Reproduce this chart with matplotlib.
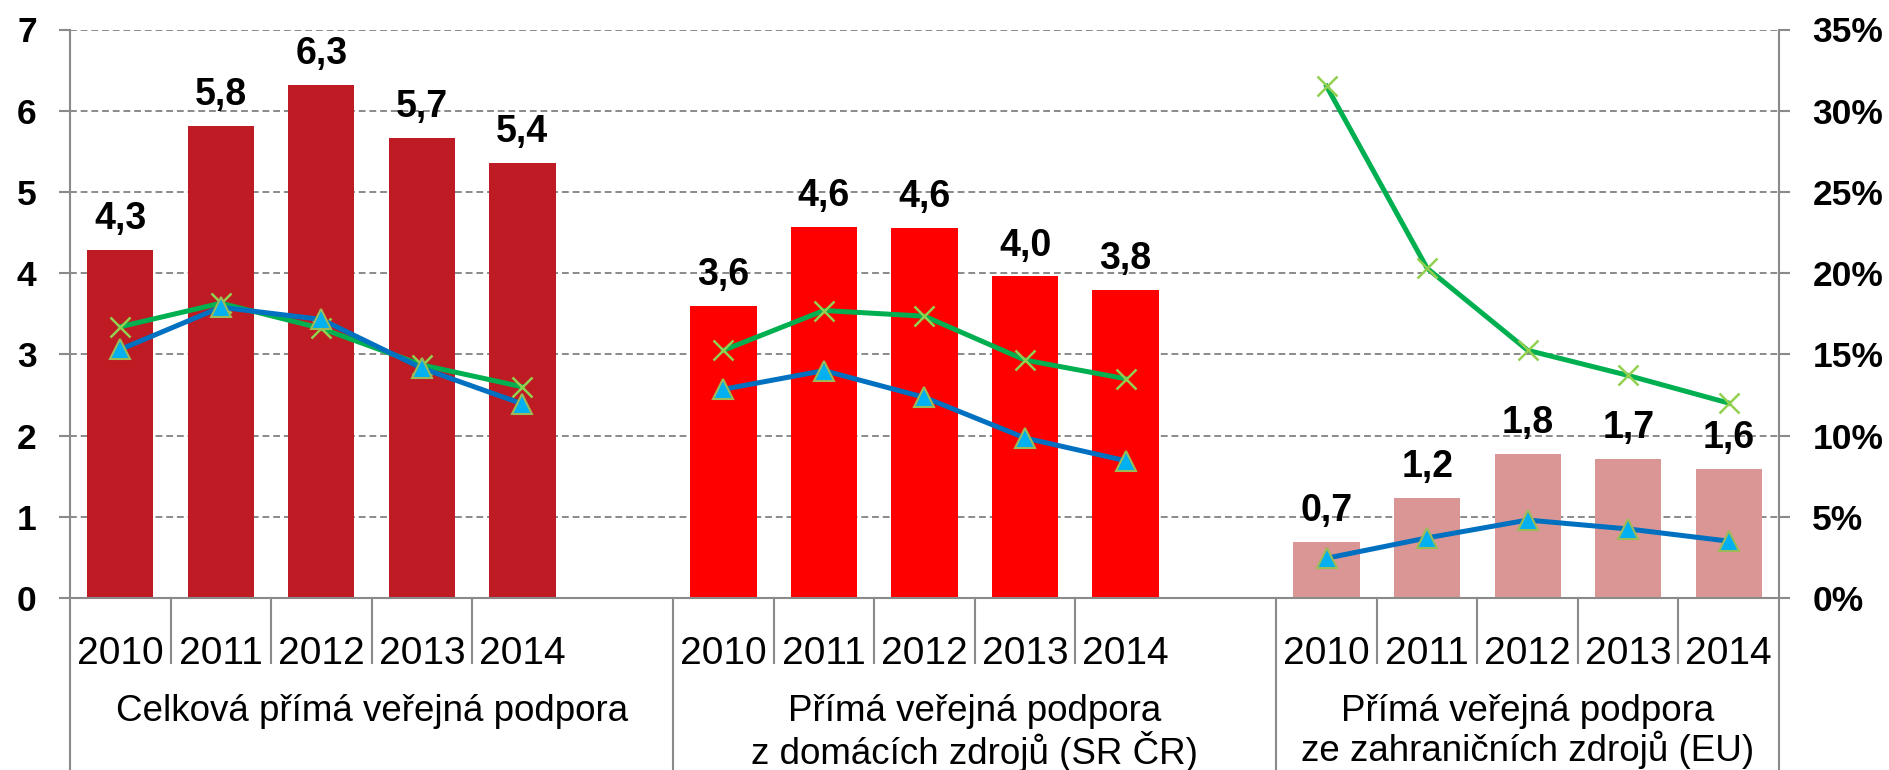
import matplotlib
matplotlib.use("Agg")
import matplotlib.pyplot as plt
from matplotlib.ticker import FuncFormatter

plt.rcParams['font.family'] = ['Liberation Sans', 'DejaVu Sans']

years = ['2010', '2011', '2012', '2013', '2014']
group_labels = [
    'Celková přímá veřejná podpora',
    'Přímá veřejná podpora\nz domácích zdrojů (SR ČR)',
    'Přímá veřejná podpora\nze zahraničních zdrojů (EU)',
]

# bar values (left axis)
bars_total = [4.29, 5.81, 6.32, 5.66, 5.36]
bars_domestic = [3.60, 4.57, 4.56, 3.96, 3.79]
bars_eu = [0.69, 1.23, 1.77, 1.71, 1.59]

# line values in % (right axis)
green_total = [16.7, 18.15, 16.6, 14.35, 13.0]
green_domestic = [15.25, 17.7, 17.35, 14.65, 13.5]
green_eu = [31.5, 20.3, 15.25, 13.7, 12.0]

blue_total = [15.3, 17.9, 17.15, 14.15, 11.95]
blue_domestic = [12.85, 14.0, 12.35, 9.85, 8.45]
blue_eu = [2.45, 3.7, 4.8, 4.25, 3.5]

bar_colors = ['#BE1B24', '#FF0000', '#D99694']
GRAY = '#8A8A8A'

bars = [bars_total, bars_domestic, bars_eu]
greens = [green_total, green_domestic, green_eu]
blues = [blue_total, blue_domestic, blue_eu]

slots_per_group = 6
n_slots = 17

fig = plt.figure(figsize=(18.9, 7.7), dpi=100)
ax = fig.add_axes([70 / 1890, 1 - 598 / 770, (1779 - 70) / 1890, (598 - 29.5) / 770])
ax2 = ax.twinx()

for g in range(3):
    xs = [g * slots_per_group + i for i in range(len(years))]
    ax.bar(xs, bars[g], width=0.66, color=bar_colors[g], zorder=2)
    for x, v in zip(xs, bars[g]):
        ax.annotate(f"{v:.1f}".replace('.', ','), xy=(x, v), xytext=(0, 15),
                    textcoords='offset points', ha='center', va='baseline',
                    fontsize=27, fontweight='bold', zorder=5)
    ax2.plot(xs, [v / 100 for v in greens[g]], color='#00B050', lw=3.6,
             marker='x', markersize=14, markeredgewidth=1.8,
             markeredgecolor='#92D050', zorder=3)
    ax2.plot(xs, [v / 100 for v in blues[g]], color='#0070C0', lw=3.6,
             marker='^', markersize=15, markerfacecolor='#00B0F0',
             markeredgecolor='#9BBB59', markeredgewidth=1.5, zorder=4)

ax.set_xlim(-0.5, n_slots - 0.5)
ax.set_ylim(0, 7)
ax2.set_ylim(0, 0.35)
ax.set_yticks(range(8))
ax2.set_yticks([i * 0.05 for i in range(8)])
ax2.yaxis.set_major_formatter(FuncFormatter(lambda v, p: f"{v * 100:.0f}%"))

ax.yaxis.grid(True, color=GRAY, lw=1.4, linestyle=(0, (3.5, 2)))
ax.set_axisbelow(True)

for a in (ax, ax2):
    for s in a.spines.values():
        s.set_visible(False)
ax.spines['left'].set_visible(True)
ax.spines['bottom'].set_visible(True)
ax2.spines['right'].set_visible(True)
for s in (ax.spines['left'], ax.spines['bottom'], ax2.spines['right']):
    s.set_color(GRAY)
    s.set_linewidth(1.5)

ax.tick_params(axis='y', direction='out', length=8, width=1.5, color=GRAY,
               pad=16, labelsize=25.5)
ax2.tick_params(axis='y', direction='out', length=8, width=1.5, color=GRAY,
                pad=16, labelsize=25.5)
for lab in ax.get_yticklabels() + ax2.get_yticklabels():
    lab.set_fontweight('bold')

# year tick labels, blank slots between groups
xlabels = []
for s in range(n_slots):
    i = s % slots_per_group
    xlabels.append(years[i] if i < len(years) else '')
ax.set_xticks(range(n_slots))
ax.set_xticklabels(xlabels, fontsize=28)
ax.tick_params(axis='x', length=0, pad=27)

# category separators below the axis
trans = ax.get_xaxis_transform()
axes_h = 598 - 29.5
short_y = -65 / axes_h
long_y = -598 / axes_h
group_starts = [0, slots_per_group, 2 * slots_per_group, n_slots]
for s in range(n_slots + 1):
    bottom = long_y if s in group_starts else short_y
    if s % slots_per_group == 5 and s not in group_starts:
        continue
    ax.plot([s - 0.5, s - 0.5], [0, bottom], color=GRAY, lw=1.5,
            transform=trans, clip_on=False)

for g, label in enumerate(group_labels):
    left = group_starts[g] - 0.5
    right = group_starts[g + 1] - 0.5
    ax.text((left + right) / 2, -96 / axes_h, label, transform=trans,
            ha='center', va='top', fontsize=26.5, linespacing=1.05)

fig.savefig('out.png', dpi=100)
